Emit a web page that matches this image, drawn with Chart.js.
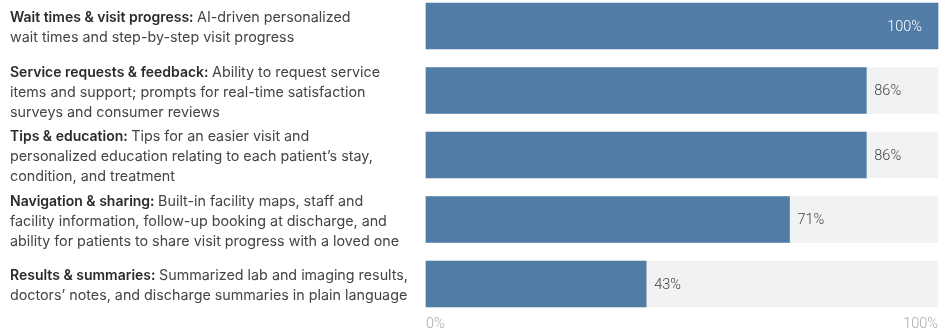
<!DOCTYPE html>
<html>
<head>
<meta charset="utf-8">
<script src="https://cdn.jsdelivr.net/npm/chart.js@4"></script>
<style>
  html, body { margin: 0; padding: 0; background: #fff; }
  #wrap { width: 949px; height: 330px; }
</style>
</head>
<body>
<div id="wrap"><canvas id="features-chart" width="949" height="330"></canvas></div>
<script>
// feature titles (bold part) and description lines, as laid out in the source
const titles = [
    'Wait times & visit progress:',
    'Service requests & feedback:',
    'Tips & education:',
    'Navigation & sharing:',
    'Results & summaries:'
];
const descriptions = [
    ['AI-driven personalized', 'wait times and step-by-step visit progress'],
    ['Ability to request service', 'items and support; prompts for real-time satisfaction', 'surveys and consumer reviews'],
    ['Tips for an easier visit and', 'personalized education relating to each patient\u2019s stay,', 'condition, and treatment'],
    ['Built-in facility maps, staff and', 'facility information, follow-up booking at discharge, and', 'ability for patients to share visit progress with a loved one'],
    ['Summarized lab and imaging results,', 'doctors\u2019 notes, and discharge summaries in plain language']
];
const values = [100, 86, 86, 71, 43];
const trackValues = [100, 100, 100, 100, 100];
const tickValues = [0, 100];

const barColor = '#507ca5';
const trackColor = '#f1f2f4';
const labelFont = 'Inter, Roboto, sans-serif';
const numberFont = 'Roboto, "Noto Sans", sans-serif';

// draws the multi-line labels with a bold lead-in on the left
const sideLabels = {
    id: 'sideLabels',
    afterDraw(chart) {
        const ctx = chart.ctx;
        const yScale = chart.scales.y;
        const lineH = 20;
        ctx.save();
        ctx.textBaseline = 'middle';
        ctx.textAlign = 'left';
        titles.forEach((title, i) => {
            const lines = descriptions[i];
            const cy = yScale.getPixelForValue(i) + 2;
            let y = cy - (lines.length - 1) * lineH / 2;
            lines.forEach((line, j) => {
                let x = 10;
                if (j === 0) {
                    ctx.font = '600 14px ' + labelFont;
                    ctx.fillStyle = '#2b2b2b';
                    ctx.fillText(title, x, y);
                    x += ctx.measureText(title + ' ').width;
                }
                ctx.font = '14.3px ' + labelFont;
                ctx.fillStyle = '#444';
                ctx.fillText(line, x, y);
                y += lineH;
            });
        });
        ctx.restore();
    }
};

// percentage labels at the end of each bar
const valueLabels = {
    id: 'valueLabels',
    afterDatasetsDraw(chart) {
        const ctx = chart.ctx;
        const meta = chart.getDatasetMeta(0);
        ctx.save();
        ctx.font = '300 14.5px ' + numberFont;
        ctx.textBaseline = 'middle';
        meta.data.forEach((bar, i) => {
            const label = values[i] + '%';
            if (values[i] >= 95) {
                ctx.fillStyle = '#ffffff';
                ctx.textAlign = 'right';
                ctx.fillText(label, bar.x - 16, bar.y + 1);
            } else {
                ctx.fillStyle = '#3f3f3f';
                ctx.textAlign = 'left';
                ctx.fillText(label, bar.x + 8, bar.y + 1);
            }
        });
        ctx.restore();
    }
};

const chart = new Chart(document.getElementById('features-chart'), {
    type: 'bar',
    data: {
        labels: titles,
        datasets: [{
            data: values,
            backgroundColor: barColor,
            barThickness: 46,
            grouped: false,
            clip: false,
            order: 0
        }, {
            data: trackValues,
            backgroundColor: trackColor,
            barThickness: 46,
            grouped: false,
            clip: false,
            order: 1
        }]
    },
    options: {
        indexAxis: 'y',
        responsive: false,
        animation: false,
        layout: { padding: { left: 426, right: 11, top: 26, bottom: 0 } },
        plugins: {
            legend: { display: false },
            tooltip: { enabled: false }
        },
        scales: {
            y: {
                display: false,
                offset: false
            },
            x: {
                min: 0,
                max: 100,
                afterBuildTicks(scale) {
                    scale.ticks = tickValues.map(v => ({ value: v }));
                },
                afterFit(scale) {
                    scale.height = 46;
                    scale.paddingLeft = 0;
                    scale.paddingRight = 0;
                },
                grid: { display: false, drawTicks: false },
                border: { display: false },
                ticks: {
                    align: 'inner',
                    padding: 32,
                    color: '#aaaaaa',
                    font: { family: numberFont, size: 14.5, weight: 300 },
                    callback: v => v + '%'
                }
            }
        }
    },
    plugins: [sideLabels, valueLabels]
});
</script>
</body>
</html>
